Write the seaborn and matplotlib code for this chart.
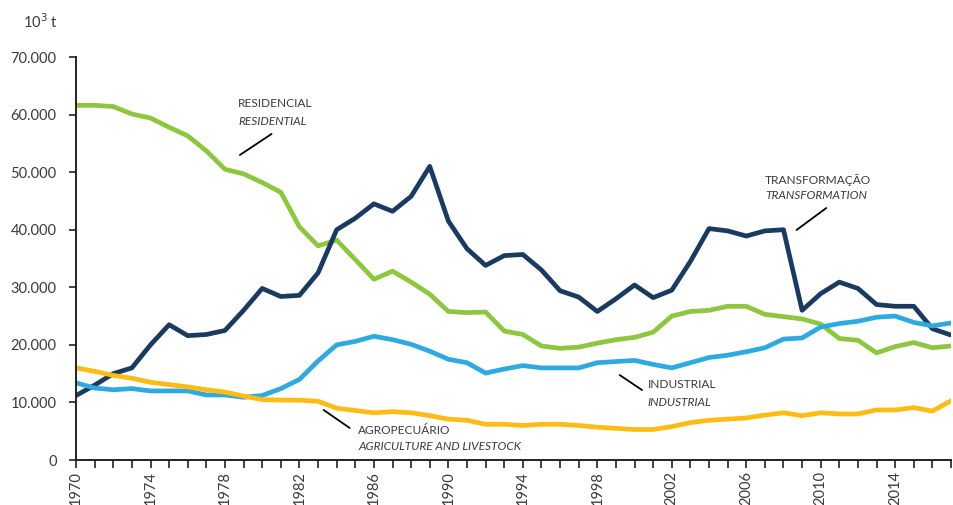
import pandas as pd
import matplotlib.pyplot as plt
import matplotlib.ticker as mticker
import seaborn as sns

# Data (10^3 t)
years = list(range(1970, 2018))

transformacao = [11200, 13000, 15000, 16000, 20000, 23500, 21600, 21800, 22500, 26000,
                 29800, 28400, 28600, 32500, 40000, 42000, 44500, 43200, 45800, 51000,
                 41500, 36700, 33800, 35500, 35700, 33000, 29400, 28300, 25800, 28000,
                 30400, 28200, 29500, 34500, 40200, 39800, 38900, 39800, 40000, 26000,
                 28900, 30900, 29800, 27000, 26700, 26700, 22800, 21700]

residencial = [61600, 61600, 61400, 60100, 59400, 57800, 56300, 53700, 50500, 49700,
               48200, 46500, 40500, 37200, 38200, 34800, 31400, 32800, 30900, 28800,
               25800, 25600, 25700, 22400, 21800, 19800, 19400, 19600, 20300, 20900,
               21300, 22200, 25000, 25800, 26000, 26700, 26700, 25300, 24900, 24500,
               23600, 21100, 20800, 18600, 19700, 20400, 19500, 19800]

industrial = [13400, 12500, 12200, 12400, 12000, 12000, 12000, 11300, 11300, 10900,
              11200, 12400, 14000, 17200, 20000, 20600, 21500, 20900, 20100, 18900,
              17500, 16900, 15100, 15800, 16400, 16000, 16000, 16000, 16900, 17100,
              17300, 16600, 16000, 16900, 17800, 18200, 18800, 19500, 21000, 21200,
              23100, 23700, 24100, 24800, 25000, 23900, 23300, 23800]

agropecuario = [16000, 15400, 14700, 14200, 13500, 13100, 12700, 12200, 11800, 11100,
                10500, 10400, 10400, 10200, 9000, 8600, 8200, 8400, 8200, 7700,
                7100, 6900, 6200, 6200, 6000, 6200, 6200, 6000, 5700, 5500,
                5300, 5300, 5800, 6500, 6900, 7100, 7300, 7800, 8200, 7700,
                8200, 8000, 8000, 8700, 8700, 9100, 8500, 10300]

tick_years = list(range(1970, 2015, 4))

series = {
    'Residencial': residencial,
    'Transformação': transformacao,
    'Industrial': industrial,
    'Agropecuário': agropecuario,
}
colors = {
    'Residencial': '#8dc63f',
    'Transformação': '#1b3a5f',
    'Industrial': '#2eaae1',
    'Agropecuário': '#fcbc14',
}

df = pd.DataFrame({'year': years, **series}).melt(id_vars='year', var_name='setor', value_name='valor')

sns.set_style('ticks')
plt.rcParams['font.family'] = ['Lato', 'DejaVu Sans']

fig = plt.figure(figsize=(9.54, 5.05), dpi=100)
ax = fig.add_axes([0.0797, 0.0891, 0.9172, 0.798])

sns.lineplot(data=df, x='year', y='valor', hue='setor', palette=colors,
             linewidth=3.4, legend=False, ax=ax)

ax.set_xlim(1970, 2017)
ax.set_ylim(0, 70000)
ax.set_xlabel('')
ax.set_ylabel('')

txt = '#3a3a3a'
ax.yaxis.set_major_locator(mticker.MultipleLocator(10000))
ax.yaxis.set_major_formatter(mticker.FuncFormatter(
    lambda v, p: '0' if v == 0 else f'{int(v):,}'.replace(',', '.')))
ax.xaxis.set_major_locator(mticker.FixedLocator(tick_years))
ax.xaxis.set_minor_locator(mticker.FixedLocator(years))
ax.tick_params(axis='x', which='both', length=6, width=1.2, color='#222222',
               labelrotation=90, labelsize=10.5, labelcolor=txt, pad=2)
ax.tick_params(axis='y', length=5, width=1.2, color='#222222', labelsize=10.5,
               labelcolor=txt, pad=9)

sns.despine(ax=ax)
for s in ['left', 'bottom']:
    ax.spines[s].set_linewidth(1.4)
    ax.spines[s].set_color('#222222')

fig.text(0.024, 0.958, '10$^3$ t', fontsize=10.5, color=txt, ha='left', va='center')

# Annotations with leader lines
labels = [
    ('RESIDENCIAL', 'RESIDENTIAL', 1978.7, 61840, 58880, (1978.8, 52980), (1980.5, 56630)),
    ('TRANSFORMAÇÃO', 'TRANSFORMATION', 2007.0, 48640, 45860, (2008.7, 39950), (2010.3, 43770)),
    ('INDUSTRIAL', 'INDUSTRIAL', 2000.7, 13030, 10070, (1999.2, 14760), (2000.4, 12160)),
    ('AGROPECUÁRIO', 'AGRICULTURE AND LIVESTOCK', 1985.15, 5040, 2260, (1983.3, 8690), (1984.7, 5560)),
]
for pt, en, x, y1, y2, p0, p1 in labels:
    ax.text(x, y1, pt, fontsize=8.6, color=txt, ha='left', va='center')
    ax.text(x, y2, en, fontsize=8.6, color=txt, ha='left', va='center', style='italic')
    ax.plot([p0[0], p1[0]], [p0[1], p1[1]], color='black', linewidth=1.3)

fig.savefig('out.png', dpi=100)
